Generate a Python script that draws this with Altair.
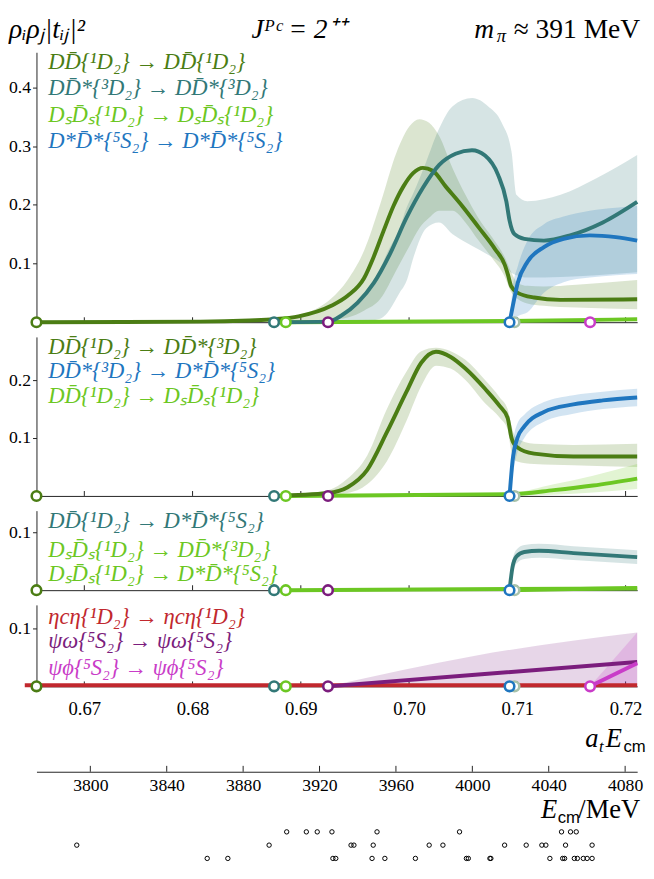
import altair as alt
import pandas as pd

# ---------------- data ----------------
X_DOMAIN = [0.66558, 0.72107]          # a_t E_cm
MEV_DOMAIN = [3771.8, 4086.3]          # E_cm / MeV
X_TICKS = [0.67, 0.68, 0.69, 0.70, 0.71, 0.72]
MEV_TICKS = [3800, 3840, 3880, 3920, 3960, 4000, 4040, 4080]

# thresholds (a_t E) and colours
thr_names = ["DD", "DDs", "DsDs", "psiom", "pale", "DsDs*", "psiphi"]
thr_x = [0.66558, 0.68753, 0.68861, 0.69251, 0.70974, 0.70928, 0.71672]
thr_col = ["#4b7d14", "#327877", "#6cc723", "#7b1d7d", "#a8c2aa", "#1f76bf", "#c93cc8"]
panel_thr = [
    ["DD", "DDs", "DsDs", "psiom", "pale", "DsDs*", "psiphi"],
    ["DD", "DDs", "DsDs", "psiom", "pale", "DsDs*"],
    ["DD", "DDs", "DsDs", "psiom", "pale", "DsDs*"],
    ["DD", "DDs", "DsDs", "psiom", "pale", "DsDs*", "psiphi"],
]

# ---- panel 1 ----
p1_dd_x = [0.665585, 0.680725, 0.685258, 0.687525, 0.689792, 0.692811, 0.694325, 0.695839,
           0.696745, 0.697652, 0.698559, 0.699465, 0.700372, 0.701279, 0.702185, 0.703391,
           0.704905, 0.706410, 0.707924, 0.708831, 0.709130, 0.709438, 0.710036, 0.711550,
           0.713971, 0.721070]
p1_dd_y = [0.0, 0.001, 0.003, 0.005, 0.010, 0.028, 0.045, 0.075, 0.112, 0.156, 0.198, 0.231,
           0.254, 0.263, 0.258, 0.231, 0.198, 0.162, 0.125, 0.098, 0.081, 0.061, 0.050, 0.042,
           0.038, 0.039]
p1_ddb_x = [0.687525, 0.691333, 0.692783, 0.694325, 0.695866, 0.697317, 0.698858, 0.700037,
            0.700943, 0.701850, 0.702757, 0.704026, 0.705205, 0.706384, 0.707653, 0.708831,
            0.709466, 0.710010, 0.710917, 0.712458, 0.715450, 0.721070]
p1_ddb_hi = [0.004, 0.022, 0.040, 0.072, 0.123, 0.200, 0.290, 0.334, 0.346, 0.340, 0.318, 0.262,
             0.217, 0.178, 0.145, 0.111, 0.084, 0.067, 0.062, 0.061, 0.064, 0.072]
p1_ddb_lo = [0.0, 0.002, 0.004, 0.008, 0.020, 0.039, 0.090, 0.130, 0.160, 0.178, 0.190, 0.190,
             0.170, 0.140, 0.110, 0.078, 0.050, 0.040, 0.032, 0.028, 0.025, 0.022]

p1_dds_x = [0.687525, 0.692511, 0.693717, 0.695231, 0.696745, 0.698250, 0.699764, 0.701279,
            0.702783, 0.704297, 0.705811, 0.707017, 0.708223, 0.708985, 0.709284, 0.709737,
            0.710644, 0.712457, 0.714878, 0.717897, 0.721070]
p1_dds_y = [0.0, 0.001, 0.011, 0.033, 0.067, 0.117, 0.178, 0.229, 0.268, 0.287, 0.293, 0.284,
            0.251, 0.206, 0.173, 0.150, 0.142, 0.139, 0.148, 0.170, 0.205]
p1_ddsb_x = [0.692511, 0.695866, 0.697317, 0.697951, 0.699129, 0.699764, 0.700398, 0.701578,
             0.702757, 0.704026, 0.705839, 0.707290, 0.708559, 0.709466, 0.709919, 0.710917,
             0.713999, 0.717263, 0.721070]
p1_ddsb_hi = [0.0, 0.050, 0.090, 0.117, 0.160, 0.195, 0.220, 0.273, 0.329, 0.368, 0.382, 0.368,
              0.340, 0.290, 0.217, 0.206, 0.217, 0.245, 0.285]
p1_ddsb_lo = [0.0, 0.002, 0.006, 0.015, 0.050, 0.070, 0.110, 0.160, 0.170, 0.150, 0.130, 0.115,
              0.100, 0.084, 0.080, 0.076, 0.077, 0.080, 0.085]

p1_ss_x = [0.709284, 0.709583, 0.710036, 0.710943, 0.712457, 0.714270, 0.716691, 0.719102, 0.721070]
p1_ss_y = [0.0, 0.028, 0.067, 0.103, 0.128, 0.142, 0.148, 0.145, 0.139]
p1_ss_hi = [0.0, 0.060, 0.095, 0.139, 0.167, 0.180, 0.190, 0.195, 0.198]
p1_ss_lo = [0.0, 0.003, 0.010, 0.017, 0.050, 0.068, 0.076, 0.080, 0.082]

p1_dsds_x = [0.688613, 0.709284, 0.721070]
p1_dsds_y = [0.0, 0.002, 0.005]

# ---- panel 2 ----
p2_dd_x = [0.687525, 0.692511, 0.694325, 0.696138, 0.697951, 0.699764, 0.701124, 0.702484,
           0.703844, 0.705204, 0.707017, 0.708377, 0.709103, 0.709466, 0.709919, 0.711550,
           0.715177, 0.721070]
p2_dd_y = [0.0, 0.005, 0.015, 0.045, 0.110, 0.180, 0.230, 0.249, 0.240, 0.220, 0.185, 0.155,
           0.135, 0.100, 0.085, 0.073, 0.068, 0.068]
p2_dd_hi = [0.0, 0.010, 0.030, 0.070, 0.150, 0.215, 0.250, 0.256, 0.250, 0.235, 0.200, 0.170,
            0.150, 0.120, 0.100, 0.090, 0.088, 0.090]
p2_dd_lo = [0.0, 0.002, 0.005, 0.020, 0.060, 0.130, 0.190, 0.225, 0.220, 0.200, 0.160, 0.135,
            0.115, 0.075, 0.060, 0.055, 0.053, 0.050]
p2_ss_x = [0.709284, 0.709556, 0.710009, 0.710644, 0.712457, 0.715177, 0.717897, 0.721070]
p2_ss_y = [0.0, 0.060, 0.100, 0.120, 0.145, 0.158, 0.165, 0.170]
p2_ss_hi = [0.0, 0.085, 0.125, 0.140, 0.162, 0.174, 0.180, 0.185]
p2_ss_lo = [0.0, 0.035, 0.075, 0.100, 0.128, 0.142, 0.150, 0.155]
p2_dsds_x = [0.688613, 0.709284, 0.713364, 0.716990, 0.721070]
p2_dsds_y = [0.0, 0.003, 0.010, 0.018, 0.030]
p2_dsds_hi = [0.0, 0.005, 0.020, 0.035, 0.055]
p2_dsds_lo = [0.0, 0.0, 0.002, 0.006, 0.012]

# ---- panel 3 ----
p3_t_x = [0.709284, 0.709556, 0.709919, 0.710644, 0.712004, 0.715177, 0.721070]
p3_t_y = [0.0, 0.040, 0.058, 0.066, 0.068, 0.064, 0.057]
p3_t_hi = [0.0, 0.052, 0.070, 0.078, 0.080, 0.076, 0.069]
p3_t_lo = [0.0, 0.028, 0.046, 0.054, 0.056, 0.052, 0.045]
p3_a_x = [0.688613, 0.721070]
p3_a_y = [0.0, 0.003]
p3_b_x = [0.709284, 0.721070]
p3_b_y = [0.0, 0.004]

# ---- panel 4 ----
p4_red_x = [0.6645, 0.721070]
p4_red_y = [0.002, 0.002]
p4_pw_x = [0.692511, 0.706111, 0.721070]
p4_pw_y = [0.0, 0.020, 0.042]
p4_pw_hi = [0.0, 0.053, 0.093]
p4_pw_lo = [0.0, 0.0, 0.0]
p4_pp_x = [0.716718, 0.721070]
p4_pp_y = [0.0, 0.040]
p4_pp_hi = [0.0, 0.093]
p4_pp_lo = [0.0, 0.0]

# ---- finite-volume levels (MeV), three rows ----
lev_row1 = [3902.8, 3913.1, 3918.8, 3926.5, 3950.1, 3993.3, 4046.7, 4051.4, 4054.4]
lev_row2 = [3792.9, 3893.6, 3936.5, 3938.0, 3948.1, 3977.4, 3984.6, 4016.9, 4028.2, 4036.4,
            4038.5, 4048.8, 4062.7]
lev_row3 = [3861.2, 3872.0, 3927.0, 3928.5, 3947.5, 3954.2, 3970.2, 3996.9, 3997.9, 4009.2,
            4009.7, 4040.6, 4047.3, 4048.3, 4053.4, 4055.0, 4058.1, 4060.1, 4062.7]

# ---------------- styling ----------------
SERIF = "Liberation Serif"
SANS = "Liberation Sans"
W = 612
C_DD, C_DDS, C_DSDS, C_SS = "#4b7d14", "#327877", "#6cc723", "#1f76bf"
C_RED, C_PW, C_PP = "#c1282e", "#7b1d7d", "#c93cc8"
LW = 4
LEG = 23

xscale = alt.Scale(domain=X_DOMAIN, nice=False, zero=False)


def xenc(labels):
    if labels:
        ax = alt.Axis(values=X_TICKS, format=".2f", ticks=False, labelFont=SERIF,
                      labelFontSize=19, labelColor="black", labelPadding=14,
                      domainColor="#222", domainWidth=1, title=None, grid=False)
    else:
        ax = alt.Axis(labels=False, ticks=False, domainColor="#222", domainWidth=1,
                      title=None, grid=False)
    return alt.X("x:Q", scale=xscale, axis=ax)


def yenc(field, ymax, yticks):
    return alt.Y(field, scale=alt.Scale(domain=[0, ymax], nice=False, zero=True),
                 axis=alt.Axis(values=yticks, format=".1f", tickSize=4, tickColor="#222",
                               labelFont=SERIF, labelFontSize=18, labelColor="black",
                               labelPadding=2, domainColor="#222", title=None, grid=False))


def band(xs, lo, hi, color, ymax, yt, lab=False, op=0.2):
    df = pd.DataFrame({"x": xs, "lo": lo, "hi": hi})
    return alt.Chart(df).mark_area(color=color, opacity=op, interpolate="monotone").encode(
        x=xenc(lab), y=yenc("lo:Q", ymax, yt), y2="hi:Q")


def line(xs, ys, color, ymax, yt, lab=False, interp="monotone"):
    df = pd.DataFrame({"x": xs, "y": ys})
    return alt.Chart(df).mark_line(color=color, strokeWidth=LW, interpolate=interp,
                                   strokeCap="butt").encode(
        x=xenc(lab), y=yenc("y:Q", ymax, yt))


def text(label, px, py, color, size=LEG, style="italic", font=SERIF, align="left",
         baseline="middle"):
    df = pd.DataFrame({"t": [label]})
    return alt.Chart(df).mark_text(align=align, baseline=baseline, font=font, fontSize=size,
                                   fontStyle=style, color=color).encode(
        x=alt.value(px), y=alt.value(py), text="t:N")


def tick_rules(h, lab=False):
    tdf = pd.DataFrame({"x": X_TICKS})
    return alt.Chart(tdf).mark_rule(color="#222", strokeWidth=1).encode(
        x=xenc(lab), y=alt.value(h), y2=alt.value(h - 5))


def circles(idx, ymax, yt, lab=False):
    names = panel_thr[idx]
    df = pd.DataFrame({"x": [thr_x[thr_names.index(n)] for n in names],
                       "c": [thr_col[thr_names.index(n)] for n in names],
                       "y": [0.0] * len(names)})
    return alt.Chart(df).mark_point(shape="circle", filled=True, fill="white", size=95,
                                    strokeWidth=2.6, opacity=1).encode(
        x=xenc(lab), y=yenc("y:Q", ymax, yt),
        stroke=alt.Stroke("c:N", scale=None))


# ---- header ----
HDR = 28
p0 = alt.layer(
    text("ρᵢρⱼ|tᵢⱼ|²", -28, 0, "black", size=HDR, baseline="top"),
    text("Jᴾᶜ = 2⁺⁺", 219, 0, "black", size=HDR, baseline="top"),
    text("m", 446, 0, "black", size=HDR, baseline="top"),
    text("π", 469, 12, "black", size=19, baseline="top"),
    text("≈ 391 MeV", 615, 0, "black", size=HDR, style="normal", align="right",
         baseline="top"),
).properties(width=W, height=22)

# ---- panel 1 ----
H1, Y1 = 275, 0.4599
T1 = [0.1, 0.2, 0.3, 0.4]
p1 = alt.layer(
    tick_rules(H1),
    band(p1_ddb_x, p1_ddb_lo, p1_ddb_hi, C_DD, Y1, T1),
    band(p1_ddsb_x, p1_ddsb_lo, p1_ddsb_hi, C_DDS, Y1, T1),
    band(p1_ss_x, p1_ss_lo, p1_ss_hi, C_SS, Y1, T1),
    line(p1_dsds_x, p1_dsds_y, C_DSDS, Y1, T1),
    line(p1_dd_x, p1_dd_y, C_DD, Y1, T1),
    line(p1_dds_x, p1_dds_y, C_DDS, Y1, T1),
    line(p1_ss_x, p1_ss_y, C_SS, Y1, T1),
    circles(0, Y1, T1),
    text("DD̄{¹D₂} → DD̄{¹D₂}", 12, 10, C_DD),
    text("DD̄*{³D₂} → DD̄*{³D₂}", 12, 37, C_DDS),
    text("DₛD̄ₛ{¹D₂} → DₛD̄ₛ{¹D₂}", 12, 64, C_DSDS),
    text("D*D̄*{⁵S₂} → D*D̄*{⁵S₂}", 12, 91, C_SS),
).properties(width=W, height=H1)

# ---- panel 2 ----
H2, Y2 = 162, 162 / 590
T2 = [0.1, 0.2]
p2 = alt.layer(
    tick_rules(H2),
    band(p2_dd_x, p2_dd_lo, p2_dd_hi, C_DD, Y2, T2),
    band(p2_ss_x, p2_ss_lo, p2_ss_hi, C_SS, Y2, T2),
    band(p2_dsds_x, p2_dsds_lo, p2_dsds_hi, C_DSDS, Y2, T2),
    line(p2_dsds_x, p2_dsds_y, C_DSDS, Y2, T2),
    line(p2_dd_x, p2_dd_y, C_DD, Y2, T2),
    line(p2_ss_x, p2_ss_y, C_SS, Y2, T2),
    circles(1, Y2, T2),
    text("DD̄{¹D₂} → DD̄*{³D₂}", 12, 10, C_DD),
    text("DD̄*{³D₂} → D*D̄*{⁵S₂}", 12, 35, C_SS),
    text("DD̄{¹D₂} → DₛD̄ₛ{¹D₂}", 12, 60, C_DSDS),
).properties(width=W, height=H2)

# ---- panel 3 ----
H3, Y3 = 81, 81 / 590
T3 = [0.1]
p3 = alt.layer(
    tick_rules(H3),
    band(p3_t_x, p3_t_lo, p3_t_hi, C_DDS, Y3, T3),
    line(p3_a_x, p3_a_y, C_DSDS, Y3, T3, interp="linear"),
    line(p3_b_x, p3_b_y, C_DSDS, Y3, T3, interp="linear"),
    line(p3_t_x, p3_t_y, C_DDS, Y3, T3),
    circles(2, Y3, T3),
    text("DD̄{¹D₂} → D*D̄*{⁵S₂}", 12, 11, C_DDS),
    text("DₛD̄ₛ{¹D₂} → DD̄*{³D₂}", 12, 40, C_DSDS),
    text("DₛD̄ₛ{¹D₂} → D*D̄*{⁵S₂}", 12, 65, C_DSDS),
).properties(width=W, height=H3)

# ---- panel 4 ----
H4, Y4 = 83, 83 / 590
T4 = [0.1]
p4 = alt.layer(
    tick_rules(H4, True),
    band(p4_pw_x, p4_pw_lo, p4_pw_hi, C_PW, Y4, T4, True, op=0.18),
    band(p4_pp_x, p4_pp_lo, p4_pp_hi, C_PP, Y4, T4, True, op=0.2),
    line(p4_red_x, p4_red_y, C_RED, Y4, T4, True, interp="linear"),
    line(p4_pw_x, p4_pw_y, C_PW, Y4, T4, True, interp="linear"),
    line(p4_pp_x, p4_pp_y, C_PP, Y4, T4, True, interp="linear"),
    circles(3, Y4, T4, True),
    text("ηcη{¹D₂} → ηcη{¹D₂}", 12, 12, C_RED),
    text("ψω{⁵S₂} → ψω{⁵S₂}", 12, 37, C_PW),
    text("ψϕ{⁵S₂} → ψϕ{⁵S₂}", 12, 64, C_PP),
    text("a", 559, 145, "black", size=27, baseline="alphabetic"),
    text("t", 573, 150, "black", size=17, baseline="alphabetic"),
    text("E", 580, 145, "black", size=27, baseline="alphabetic"),
    text("cm", 598, 150, "black", size=17, style="normal", font=SANS,
         baseline="alphabetic"),
).properties(width=W, height=H4)

# ---- panel 5: MeV axis and levels ----
H5 = 163
AX_OFF = 91
lev_df = pd.DataFrame({
    "mev": lev_row1 + lev_row2 + lev_row3,
    "row": [1] * len(lev_row1) + [2] * len(lev_row2) + [3] * len(lev_row3),
})
mev_x = alt.X("mev:Q", scale=alt.Scale(domain=MEV_DOMAIN, nice=False, zero=False),
              axis=alt.Axis(values=MEV_TICKS, format="d", ticks=False, labelFont=SERIF,
                            labelFontSize=18, labelColor="black", labelPadding=5,
                            offset=-AX_OFF, domainColor="#222", title=None, grid=False))
mt = alt.Chart(pd.DataFrame({"mev": MEV_TICKS})).mark_rule(color="#222").encode(
    x=mev_x, y=alt.value(H5 - AX_OFF), y2=alt.value(H5 - AX_OFF - 6))
# rows 1..3 sit at 133, 146, 160 px below the top of this panel
dots = alt.Chart(lev_df).mark_point(shape="circle", filled=False, size=20, strokeWidth=1,
                                    color="black", opacity=1).encode(
    x=mev_x,
    y=alt.Y("row:Q", scale=alt.Scale(domain=[-8.85, 3.2], reverse=True, nice=False,
                                     zero=False), axis=None))
p5 = alt.layer(
    mt, dots,
    text("E", 514, 119, "black", size=27, baseline="alphabetic"),
    text("cm", 531, 124, "black", size=17, style="normal", font=SANS,
         baseline="alphabetic"),
    text("/MeV", 615, 119, "black", size=27, style="normal", align="right",
         baseline="alphabetic"),
).properties(width=W, height=H5)

chart = alt.vconcat(p0, p1, p2, p3, p4, p5, spacing=15, bounds="flush").properties(
    padding={"left": 0, "right": 0, "top": 0, "bottom": 0}
).configure_view(stroke=None)

chart.save("out.html", embed_options={"renderer": "svg", "actions": False})
